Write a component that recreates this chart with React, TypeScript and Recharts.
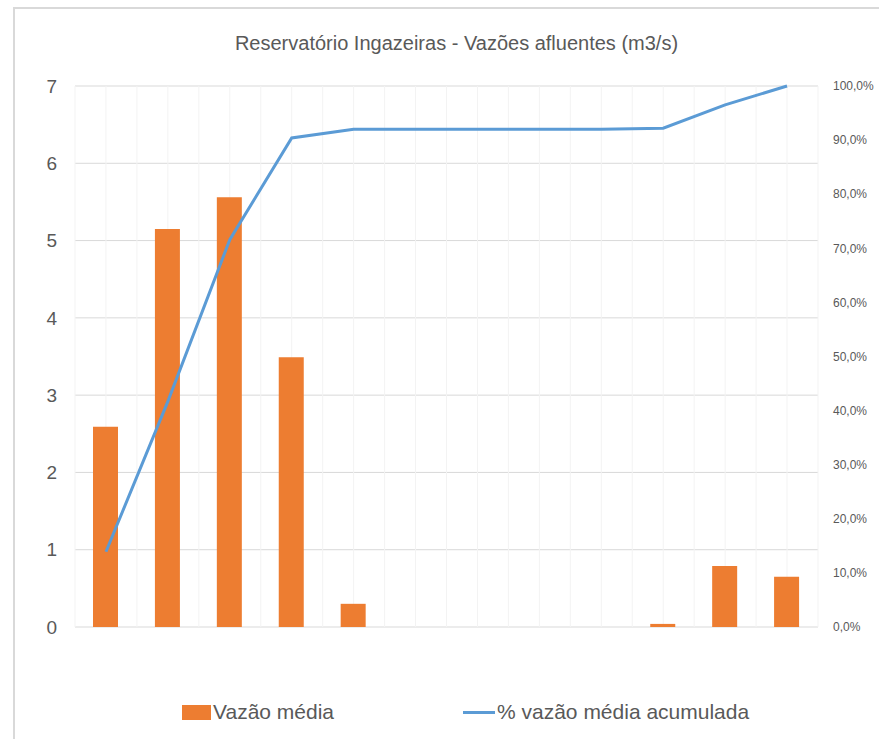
import React from 'react';
import {
  ComposedChart,
  Bar,
  Line,
  XAxis,
  YAxis,
  CartesianGrid,
  Legend,
} from 'recharts';

// monthly mean inflow (m3/s) and cumulative share (%)
const meses = ['Jan', 'Fev', 'Mar', 'Abr', 'Mai', 'Jun', 'Jul', 'Ago', 'Set', 'Out', 'Nov', 'Dez'];
const vazaoMedia = [2.59, 5.15, 5.56, 3.49, 0.3, 0, 0, 0, 0, 0.04, 0.79, 0.65];
const vazaoAcumulada = [13.9, 41.7, 71.6, 90.4, 92.0, 92.0, 92.0, 92.0, 92.0, 92.2, 96.5, 100];
const leftTicks = [0, 1, 2, 3, 4, 5, 6, 7];
const rightTicks = [0, 10, 20, 30, 40, 50, 60, 70, 80, 90, 100];

const data = meses.map((mes, i) => ({
  mes,
  media: vazaoMedia[i],
  acumulada: vazaoAcumulada[i],
}));

const FONT = '"Liberation Sans", Arial, sans-serif';
const TEXT = '#595959';
const ORANGE = '#ED7D31';
const BLUE = '#5B9BD5';

const pct = (v: number) => v.toFixed(1).replace('.', ',') + '%';

const LegendBox = (props: any) => {
  const items = props.payload || [];
  const bar = items.find((it: any) => it.type === 'rect');
  const line = items.find((it: any) => it.type === 'line');
  const itemStyle: React.CSSProperties = {
    position: 'absolute',
    top: 0,
    display: 'flex',
    alignItems: 'center',
    height: 30,
    color: TEXT,
    fontSize: 21,
  };
  return (
    <div style={{ position: 'relative', width: 879, height: 30, fontFamily: FONT }}>
      {bar && (
        <div style={{ ...itemStyle, left: 182 }}>
          <span style={{ display: 'inline-block', width: 29, height: 15, background: ORANGE, marginRight: 2 }} />
          {bar.value}
        </div>
      )}
      {line && (
        <div style={{ ...itemStyle, left: 463 }}>
          <span style={{ display: 'inline-block', width: 32, height: 3, background: BLUE, marginRight: 2 }} />
          {line.value}
        </div>
      )}
    </div>
  );
};

const App = () => {
  return (
    <div style={{ position: 'absolute', left: 0, top: 0, width: 879, height: 739, background: '#fff' }}>
      <div
        style={{
          position: 'absolute',
          left: 13,
          top: 7,
          right: 0,
          bottom: 0,
          borderTop: '2px solid #d9d9d9',
          borderLeft: '2px solid #d9d9d9',
        }}
      />
      <div
        style={{
          position: 'absolute',
          left: 0,
          top: 32,
          width: 913,
          textAlign: 'center',
          fontFamily: FONT,
          fontSize: 20,
          color: TEXT,
        }}
      >
        Reservatório Ingazeiras - Vazões afluentes (m3/s)
      </div>
      <div style={{ position: 'absolute', left: 0, top: 0 }}>
        <ComposedChart
          width={879}
          height={739}
          data={data}
          margin={{ top: 86, right: 11, bottom: 112, left: 15 }}
        >
          <CartesianGrid yAxisId="left" vertical={false} stroke="#d9d9d9" />
          <CartesianGrid
            yAxisId="left"
            horizontal={false}
            stroke="#f3f3f3"
            verticalCoordinatesGenerator={({ offset }: any) =>
              Array.from({ length: 25 }, (_, k) => offset.left + (offset.width * k) / 24)
            }
          />
          <XAxis dataKey="mes" hide />
          <YAxis
            yAxisId="left"
            width={60}
            domain={[0, 7]}
            ticks={leftTicks}
            axisLine={false}
            tickLine={false}
            tickMargin={12}
            tick={{ fill: TEXT, fontSize: 19, fontFamily: FONT }}
          />
          <YAxis
            yAxisId="right"
            orientation="right"
            width={50}
            domain={[0, 100]}
            ticks={rightTicks}
            tickFormatter={pct}
            axisLine={false}
            tickLine={false}
            tickMargin={9}
            tick={{ fill: TEXT, fontSize: 12, fontFamily: FONT, textAnchor: 'start' }}
          />
          <Bar
            yAxisId="left"
            dataKey="media"
            name="Vazão média"
            fill={ORANGE}
            barSize={25}
            legendType="rect"
            isAnimationActive={false}
          />
          <Line
            yAxisId="right"
            dataKey="acumulada"
            name="% vazão média acumulada"
            stroke={BLUE}
            strokeWidth={3}
            dot={false}
            type="linear"
            legendType="line"
            isAnimationActive={false}
          />
          <Legend
            verticalAlign="middle"
            layout="horizontal"
            content={LegendBox}
            wrapperStyle={{ top: 697, left: 0, width: 879 }}
          />
        </ComposedChart>
      </div>
    </div>
  );
};

export default App;
